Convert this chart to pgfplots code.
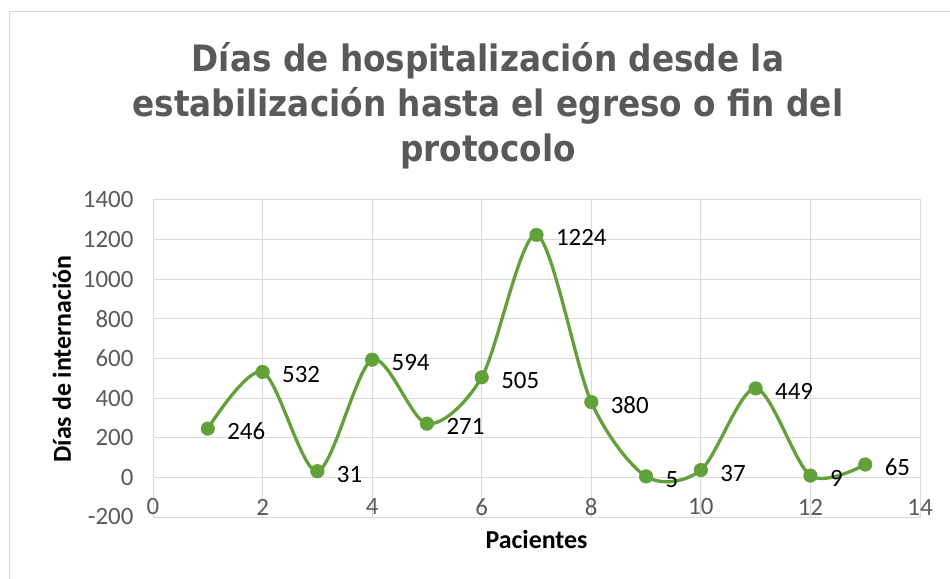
\documentclass[border=0pt]{standalone}
\usepackage{pgfplots}
\pgfplotsset{compat=1.18}
\usepackage{fontspec}
\setmainfont{Carlito}
\newfontfamily\titlefont{DejaVu Sans Condensed}
\definecolor{lgreen}{RGB}{98,160,57}
\definecolor{tgray}{RGB}{89,89,89}
\definecolor{ggray}{RGB}{217,217,217}
\begin{document}
\begin{tikzpicture}
\useasboundingbox (-153bp,-62bp) rectangle (797bp,517bp);
\draw[ggray, line width=1bp] (-143bp,-62bp) -- (-143bp,505bp) -- (797bp,505bp);
\node[align=center, text=tgray, font=\titlefont\bfseries\fontsize{36.5}{45}\selectfont] at (335bp,411bp)
 {Días de hospitalización desde la\\estabilización hasta el egreso o fin del\\protocolo};
\node[rotate=90, font=\bfseries\fontsize{26}{28}\selectfont] at (-91bp,158bp) {Días de internación};
\begin{axis}[
  at={(0,0)}, anchor=south west,
  scale only axis, width=767bp, height=317bp,
  xmin=0, xmax=14, ymin=-200, ymax=1400,
  xtick={0,2,...,14}, ytick={-200,0,...,1400},
  grid=major, major grid style={ggray, line width=1bp},
  axis line style={ggray, line width=1bp},
  tick style={draw=none},
  /pgf/number format/assume math mode=true,
  /pgf/number format/1000 sep={},
  ticklabel style={font=\fontsize{25}{27}\selectfont, text=tgray},
  xticklabel style={anchor=center, yshift=10bp},
  yticklabel style={anchor=east, xshift=-16bp},
  xlabel={\bfseries Pacientes},
  xlabel style={font=\fontsize{26}{28}\selectfont, at={(axis description cs:0.5,0)}, anchor=center, yshift=-23bp},
  clip=false,
]
\addplot[lgreen, line width=3.3bp, smooth, tension=0.5,
  mark=*, mark size=6.8bp, mark options={fill=lgreen, draw=lgreen, line width=0.5bp},
  point meta=explicit symbolic,
  nodes near coords,
  every node near coord/.append style={anchor=west, xshift=16bp, yshift=-3bp, text=black, font=\fontsize{25}{27}\selectfont}]
coordinates {
(1,246) [246]
(2,532) [532]
(3,31) [31]
(4,594) [594]
(5,271) [271]
(6,505) [505]
(7,1224) [1224]
(8,380) [380]
(9,5) [5]
(10,37) [37]
(11,449) [449]
(12,9) [9]
(13,65) [65]
};
\end{axis}
\end{tikzpicture}
\end{document}
